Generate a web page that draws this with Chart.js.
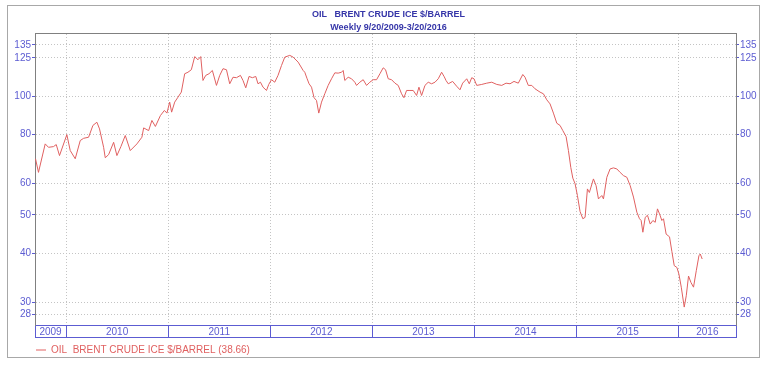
<!DOCTYPE html>
<html><head><meta charset="utf-8">
<script src="https://cdn.jsdelivr.net/npm/chart.js@4.4.1/dist/chart.umd.min.js"></script>
<style>
html,body{margin:0;padding:0;background:#fff;}
#wrap{position:relative;width:771px;height:367px;}
#frame{position:absolute;left:7px;top:5px;width:751px;height:351px;border:1px solid #a8a8a8;pointer-events:none;}
</style>
</head><body>
<div id="wrap"><canvas id="c" width="771" height="367"></canvas><div id="frame"></div></div>
<script>
// Dates as decimal years (weekly samples)
const dateYears = [
2009.701,2009.730,2009.796,2009.828,2009.877,2009.904,2009.936,2010.008,2010.041,2010.090,
2010.139,2010.172,2010.221,2010.263,2010.302,2010.328,2010.368,2010.384,2010.417,2010.466,
2010.498,2010.537,2010.580,2010.629,2010.694,2010.743,2010.760,2010.809,2010.841,2010.875,
2010.924,2010.963,2010.988,2011.015,2011.034,2011.064,2011.096,2011.129,2011.162,2011.194,
2011.227,2011.260,2011.292,2011.319,2011.341,2011.368,2011.400,2011.433,2011.473,2011.505,
2011.537,2011.571,2011.603,2011.635,2011.669,2011.708,2011.733,2011.760,2011.792,2011.825,
2011.858,2011.880,2011.904,2011.929,2011.963,2011.985,2012.012,2012.044,2012.076,2012.110,
2012.142,2012.191,2012.224,2012.273,2012.322,2012.338,2012.361,2012.380,2012.404,2012.429,
2012.453,2012.475,2012.502,2012.534,2012.567,2012.600,2012.632,2012.665,2012.698,2012.714,
2012.730,2012.763,2012.796,2012.828,2012.845,2012.877,2012.910,2012.943,2012.975,2013.008,
2013.041,2013.074,2013.106,2013.129,2013.155,2013.188,2013.221,2013.253,2013.286,2013.309,
2013.335,2013.368,2013.400,2013.433,2013.456,2013.482,2013.515,2013.547,2013.580,2013.613,
2013.645,2013.678,2013.704,2013.721,2013.743,2013.786,2013.825,2013.858,2013.884,2013.924,
2013.949,2013.973,2013.995,2014.022,2014.071,2014.120,2014.169,2014.218,2014.267,2014.309,
2014.348,2014.387,2014.429,2014.473,2014.495,2014.527,2014.561,2014.593,2014.642,2014.675,
2014.708,2014.740,2014.773,2014.806,2014.838,2014.865,2014.897,2014.920,2014.943,2014.963,
2014.985,2015.008,2015.034,2015.061,2015.083,2015.106,2015.125,2015.165,2015.191,2015.214,
2015.247,2015.263,2015.296,2015.328,2015.361,2015.394,2015.426,2015.459,2015.492,2015.525,
2015.557,2015.590,2015.616,2015.632,2015.649,2015.672,2015.694,2015.721,2015.747,2015.770,
2015.792,2015.812,2015.835,2015.851,2015.877,2015.910,2015.933,2015.956,2015.982,2016.002,
2016.025,2016.054,2016.074,2016.096,2016.120,2016.145,2016.172,2016.198,2016.211,2016.230
];
const brentPrices = [
69.4,64.1,75.7,74.2,74.5,75.4,70.7,79.9,72.8,69.4,
77.2,78.2,78.7,84.3,85.9,82.6,74.2,69.8,71.1,76.4,
70.7,74.5,79.5,72.8,75.7,78.7,83.1,81.8,86.8,83.8,
89.3,92.0,90.6,96.6,91.1,96.6,99.4,102.4,114.0,115.0,
116.7,126.0,123.7,126.0,109.6,112.9,114.0,116.2,106.5,112.9,
117.4,116.7,107.5,111.7,111.4,112.9,109.6,105.0,112.2,111.4,
112.2,107.5,108.5,105.4,103.4,107.1,110.1,108.5,112.9,119.6,
125.6,126.9,125.6,122.0,116.2,115.0,110.7,107.5,105.4,99.1,
97.5,90.6,96.6,101.4,106.5,110.7,114.6,114.4,115.0,116.2,
109.6,111.7,110.7,108.5,106.5,108.5,110.1,106.5,108.5,110.1,
110.1,114.0,118.0,116.7,110.7,110.1,107.9,106.5,101.4,99.1,
103.4,103.4,103.4,100.4,105.4,100.4,106.5,108.5,107.5,108.5,
110.7,115.0,112.0,109.6,107.5,109.0,106.0,103.8,107.9,110.7,
107.5,111.4,110.7,106.5,107.1,107.9,108.5,107.1,106.5,107.9,
107.5,109.0,107.9,113.5,111.7,106.5,106.5,104.4,102.4,101.4,
97.9,95.6,90.6,85.4,84.3,81.8,79.0,72.8,66.0,62.0,
60.0,56.0,51.0,48.9,49.3,58.2,57.0,61.7,59.3,54.9,
56.0,54.9,62.3,65.4,65.8,65.4,64.1,62.9,62.3,59.3,
55.5,50.8,48.9,48.4,45.2,49.3,49.9,47.4,48.4,47.9,
51.8,50.3,48.4,48.9,44.7,44.0,40.4,37.2,36.8,35.4,
32.8,29.2,31.2,35.0,33.7,32.8,36.1,39.4,39.8,38.66
];
const yearLabels = ['2009','2010','2011','2012','2013','2014','2015','2016'];
const yearStarts = [2010,2011,2012,2013,2014,2015,2016];
const yTicks = [28,30,40,50,60,80,100,125,135];
const seriesName = 'OIL  BRENT CRUDE ICE $/BARREL (38.66)';
const titleLines = ['OIL   BRENT CRUDE ICE $/BARREL','Weekly 9/20/2009-3/20/2016'];

const X_MIN = 2009.696, X_MAX = 2016.561;
const Y_MIN = 26.3, Y_MAX = 144.6;
const BLUE = '#5c5cd2';
const RED = '#e06060';
const FONT = 'Liberation Sans, Arial, sans-serif';

// band boundaries and label midpoints
const bounds = [X_MIN, ...yearStarts, X_MAX];
const bandTicks = [];
for (let i = 0; i < bounds.length; i++) {
  bandTicks.push({value: bounds[i]});
  if (i < bounds.length - 1) bandTicks.push({value: (bounds[i] + bounds[i+1]) / 2});
}

const bandPlugin = {
  id: 'band',
  afterLayout(chart) {
    // legend starts under the plot, title slightly right of canvas centre
    chart.legend.left += 29;
    chart.titleBlock.left += 3; chart.titleBlock.right += 3;
  },
  afterDraw(chart) {
    const s = chart.scales.x, ctx = chart.ctx;
    ctx.save();
    ctx.strokeStyle = BLUE; ctx.lineWidth = 1;
    ctx.beginPath();
    const yb = Math.round(s.top + 13) - 0.5;
    ctx.moveTo(s.left, yb); ctx.lineTo(s.right + 1, yb);
    ctx.stroke();
    ctx.restore();
  }
};

new Chart(document.getElementById('c'), {
  type: 'line',
  data: {
    datasets: [{
      label: seriesName,
      data: dateYears.map((t, i) => ({x: t, y: brentPrices[i]})),
      borderColor: RED, backgroundColor: RED,
      borderWidth: 1, pointRadius: 0, tension: 0, fill: false
    }]
  },
  options: {
    responsive: false, animation: false,
    layout: {padding: {left: 0, right: 0, top: 0, bottom: 2}},
    plugins: {
      tooltip: {enabled: false},
      title: {
        display: true, text: titleLines, color: '#3535a8',
        font: {family: FONT, size: 9, weight: 'bold', lineHeight: 13/9},
        padding: {top: 8, bottom: -1}
      },
      legend: {
        position: 'bottom', align: 'start',
        labels: {
          color: RED, font: {family: FONT, size: 10},
          boxWidth: 10, boxHeight: 1, padding: 7,
          generateLabels: (chart) => Chart.defaults.plugins.legend.labels.generateLabels(chart)
            .map(l => Object.assign(l, {lineWidth: 0, fillStyle: RED, fontColor: RED}))
        }
      }
    },
    scales: {
      x: {
        type: 'linear', position: 'bottom', min: X_MIN, max: X_MAX,
        afterBuildTicks: s => { s.ticks = bandTicks.map(t => ({value: t.value})); },
        afterFit: s => { s.height = 13; },
        grid: {
          drawOnChartArea: false, drawTicks: true, tickLength: 13,
          color: c => (c.index % 2 === 0 ? BLUE : 'rgba(0,0,0,0)'),
          tickColor: c => (c.index % 2 === 0 ? BLUE : 'rgba(0,0,0,0)')
        },
        border: {display: true, color: BLUE},
        ticks: {
          autoSkip: false, maxRotation: 0, minRotation: 0, padding: -12,
          color: BLUE, font: {family: FONT, size: 10},
          callback: (v, i) => (i % 2 === 1 ? yearLabels[(i - 1) / 2] : '')
        }
      },
      x2: {
        type: 'linear', position: 'top', min: X_MIN, max: X_MAX,
        afterBuildTicks: s => { s.ticks = yearStarts.map(v => ({value: v})); },
        afterFit: s => { s.height = 0; },
        grid: {drawOnChartArea: true, drawTicks: false, color: '#c4c4c4'},
        border: {display: true, color: '#808080', dash: [1, 2]},
        ticks: {display: false}
      },
      y: {
        type: 'logarithmic', position: 'left', min: Y_MIN, max: Y_MAX,
        afterBuildTicks: s => { s.ticks = yTicks.map(v => ({value: v})); },
        afterFit: s => { s.width = 35; },
        grid: {color: '#c4c4c4', tickColor: BLUE, tickLength: 3},
        border: {display: true, color: '#808080', dash: [1, 2]},
        ticks: {color: BLUE, padding: 1, font: {family: FONT, size: 10}, autoSkip: false,
          callback: v => String(v)}
      },
      y2: {
        type: 'logarithmic', position: 'right', min: Y_MIN, max: Y_MAX,
        afterBuildTicks: s => { s.ticks = yTicks.map(v => ({value: v})); },
        afterFit: s => { s.width = 35; },
        grid: {drawOnChartArea: false, tickColor: BLUE, tickLength: 3, color: BLUE},
        border: {display: true, color: '#808080'},
        ticks: {color: BLUE, padding: 1, font: {family: FONT, size: 10}, autoSkip: false,
          callback: v => String(v)}
      }
    }
  },
  plugins: [bandPlugin]
});
</script>
</body></html>
